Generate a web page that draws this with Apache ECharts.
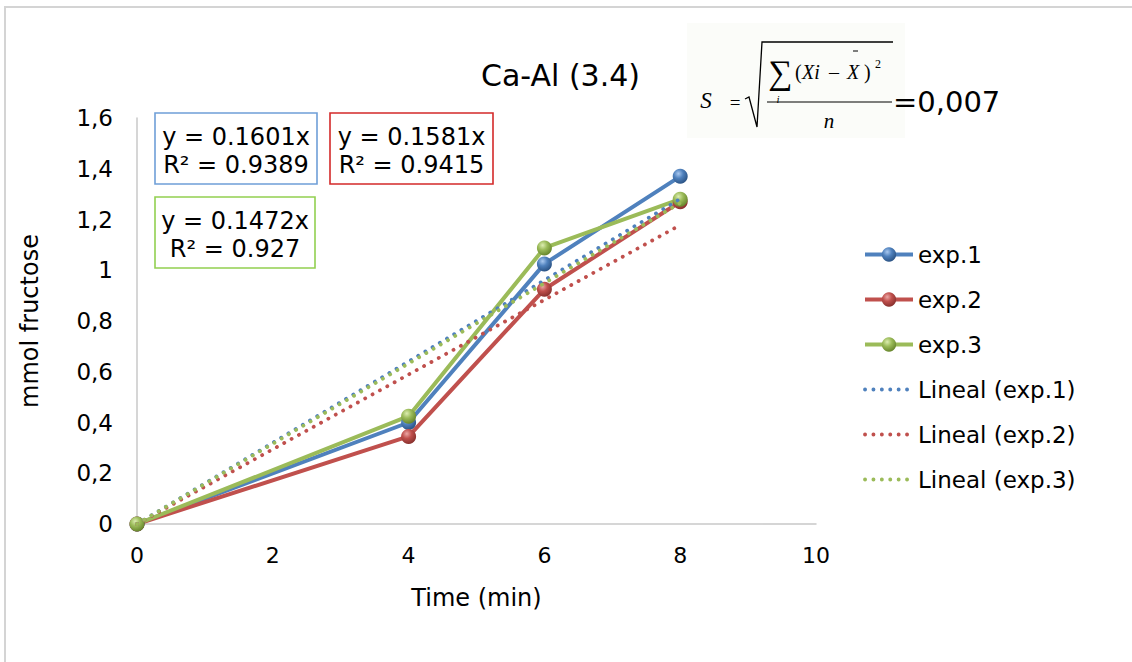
<!DOCTYPE html>
<html>
<head>
<meta charset="utf-8">
<script src="https://cdn.jsdelivr.net/npm/echarts@6/dist/echarts.min.js"></script>
<style>
html,body{margin:0;padding:0;background:#fff;}
#chart{width:1132px;height:662px;}
</style>
</head>
<body>
<div id="chart"></div>
<script>
// ---- data ----
const timeMin = [0, 4, 6, 8];
const exp1 = [0, 0.40, 1.025, 1.37];
const exp2 = [0, 0.345, 0.925, 1.27];
const exp3 = [0, 0.425, 1.088, 1.28];
// trend lines (drawn from x=0 to x=8), end values
const trendX = [0, 8];
const trend1 = [0, 1.281];
const trend2 = [0, 1.178];
const trend3 = [0, 1.265];
const seriesNames = ['exp.1', 'exp.2', 'exp.3', 'Lineal (exp.1)', 'Lineal (exp.2)', 'Lineal (exp.3)'];
const yTicks = [0, 0.2, 0.4, 0.6, 0.8, 1, 1.2, 1.4, 1.6];
const xTicks = [0, 2, 4, 6, 8, 10];
const eqBlue = ['y = 0.1601x', 'R² = 0.9389'];
const eqRed = ['y = 0.1581x', 'R² = 0.9415'];
const eqGreen = ['y = 0.1472x', 'R² = 0.927'];
const titleText = 'Ca-Al (3.4)';
const sdText = '=0,007';

const FONT = '"DejaVu Sans", "Liberation Sans", sans-serif';
const SERIF = '"Liberation Serif", "DejaVu Serif", serif';
const C = {blue: '#4f81bd', red: '#c0504d', green: '#9bbb59'};
function sphere(light, mid, dark) {
  return {type: 'radial', x: 0.38, y: 0.32, r: 0.7,
    colorStops: [{offset: 0, color: light}, {offset: 0.45, color: mid}, {offset: 1, color: dark}]};
}
const pairs = (xs, ys) => xs.map((x, i) => [x, ys[i]]);
const DOT = [0.1, 8.3];

function mainSeries(name, ys, color, grad) {
  return {
    name, type: 'line', data: pairs(timeMin, ys),
    symbol: 'circle', symbolSize: 15,
    lineStyle: {color, width: 4},
    itemStyle: {color: grad, borderWidth: 0},
    emphasis: {disabled: true}, z: 3
  };
}
function trendSeries(name, ys, color) {
  return {
    name, type: 'line', data: pairs(trendX, ys),
    symbol: 'none', showSymbol: false,
    lineStyle: {color, width: 3.8, type: DOT, cap: 'round'},
    itemStyle: {color},
    emphasis: {disabled: true}, z: 4
  };
}

const chart = echarts.init(document.getElementById('chart'), null, {renderer: 'svg'});

function eqBox(x, y, w, h, lines, border) {
  return [
    {type: 'rect', shape: {x: x, y: y, width: w, height: h}, style: {fill: '#fff', stroke: border, lineWidth: 1.6}, z: 10},
    {type: 'text', x: x + w / 2, y: y + 24, style: {text: lines[0], font: '24px ' + FONT, fill: '#000', align: 'center', verticalAlign: 'middle'}, z: 11},
    {type: 'text', x: x + w / 2, y: y + 52, style: {text: lines[1], font: '24px ' + FONT, fill: '#000', align: 'center', verticalAlign: 'middle'}, z: 11}
  ];
}
function t(x, y, text, font, align) {
  return {type: 'text', x, y, style: {text, font, fill: '#000', align: align || 'left', verticalAlign: 'middle'}, z: 11};
}

const option = {
  backgroundColor: '#fff',
  animation: false,
  title: {
    text: titleText, left: 476, top: 55,
    textStyle: {fontFamily: FONT, fontSize: 30, fontWeight: 'normal', color: '#000'}
  },
  grid: {left: 137, right: 316, top: 118, bottom: 138, containLabel: false},
  xAxis: {
    type: 'value', min: 0, max: 10, interval: 2,
    name: 'Time (min)', nameLocation: 'middle', nameGap: 62,
    nameTextStyle: {fontFamily: FONT, fontSize: 24, color: '#000'},
    axisLine: {show: true, lineStyle: {color: '#c8c8c8', width: 1.5}},
    axisTick: {show: false},
    splitLine: {show: false},
    axisLabel: {fontFamily: FONT, fontSize: 22, color: '#000', margin: 20,
      formatter: v => xTicks.includes(v) ? String(v) : ''}
  },
  yAxis: {
    type: 'value', min: 0, max: 1.6, interval: 0.2,
    name: 'mmol fructose', nameLocation: 'middle', nameGap: 95, nameRotate: 90,
    nameTextStyle: {fontFamily: FONT, fontSize: 24, color: '#000'},
    axisLine: {show: true, lineStyle: {color: '#c8c8c8', width: 1.5}},
    axisTick: {show: false},
    splitLine: {show: false},
    axisLabel: {fontFamily: FONT, fontSize: 23, color: '#000', margin: 24,
      formatter: v => {
        const k = yTicks.find(q => Math.abs(q - v) < 1e-6);
        return k === undefined ? '' : String(+k.toFixed(1)).replace('.', ',');
      }}
  },
  legend: {
    orient: 'vertical', left: 858, top: 238,
    itemWidth: 48, itemHeight: 18, itemGap: 22,
    textStyle: {fontFamily: FONT, fontSize: 23, color: '#000'},
    data: [
      {name: seriesNames[0], lineStyle: {width: 4}},
      {name: seriesNames[1], lineStyle: {width: 4}},
      {name: seriesNames[2], lineStyle: {width: 4}},
      {name: seriesNames[3], itemStyle: {opacity: 0}, lineStyle: {width: 3.8, type: DOT, cap: 'round'}},
      {name: seriesNames[4], itemStyle: {opacity: 0}, lineStyle: {width: 3.8, type: DOT, cap: 'round'}},
      {name: seriesNames[5], itemStyle: {opacity: 0}, lineStyle: {width: 3.8, type: DOT, cap: 'round'}}
    ],
    selectedMode: false
  },
  series: [
    trendSeries(seriesNames[3], trend1, C.blue),
    trendSeries(seriesNames[4], trend2, C.red),
    trendSeries(seriesNames[5], trend3, C.green),
    mainSeries(seriesNames[0], exp1, C.blue, sphere('#a9c8ef', '#4f81bd', '#2a5283')),
    mainSeries(seriesNames[1], exp2, C.red, sphere('#eba7a5', '#c0504d', '#87302d')),
    mainSeries(seriesNames[2], exp3, C.green, sphere('#dcedb0', '#9bbb59', '#66852b'))
  ],
  graphic: [].concat(
    [{type: 'polyline', shape: {points: [[5, 662], [5, 7], [1132, 7]]}, style: {stroke: '#d4d4d4', lineWidth: 2, fill: null}, silent: true}],
    eqBox(155, 113, 162, 71, eqBlue, '#6f9fd8'),
    eqBox(330, 113, 163, 71, eqRed, '#d42a2a'),
    eqBox(155, 197, 160, 71, eqGreen, '#92d050'),
    [
      {type: 'rect', shape: {x: 687, y: 23, width: 218, height: 115}, style: {fill: '#fbfcf9'}, z: 10},
      t(706, 100, 'S', 'italic 23px ' + SERIF, 'center'),
      t(735, 102, '=', '19px ' + SERIF, 'center'),
      {type: 'polyline', shape: {points: [[745, 99], [749, 97], [757, 127], [762, 42], [893, 42]]}, style: {stroke: '#000', lineWidth: 1.3, fill: null}, z: 11},
      t(780, 72, '∑', '34px ' + SERIF, 'center'),
      t(778, 99, 'i', 'italic 11px ' + SERIF, 'center'),
      t(795, 72, '(', '20px ' + SERIF),
      t(802, 72, 'Xi', 'italic 20px ' + SERIF),
      t(834, 72, '–', '20px ' + SERIF, 'center'),
      t(847, 72, 'X', 'italic 20px ' + SERIF),
      {type: 'line', shape: {x1: 853, y1: 51, x2: 858, y2: 51}, style: {stroke: '#000', lineWidth: 1}, z: 11},
      t(864, 72, ')', '20px ' + SERIF),
      t(875, 64, '2', '12px ' + SERIF),
      {type: 'line', shape: {x1: 767, y1: 102, x2: 892, y2: 102}, style: {stroke: '#000', lineWidth: 1.2}, z: 11},
      t(829, 121, 'n', 'italic 21px ' + SERIF, 'center'),
      t(893, 102, sdText, '29px ' + FONT)
    ]
  )
};
chart.setOption(option);
</script>
</body>
</html>
